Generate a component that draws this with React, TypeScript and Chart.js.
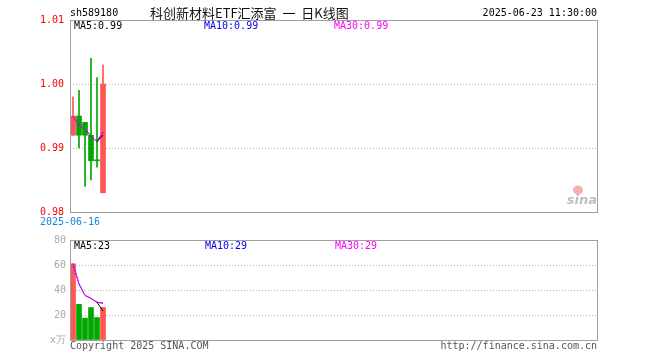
import React, { useEffect, useRef } from 'react';
import { Chart, registerables } from 'chart.js';
Chart.register(...registerables);

// ---- data ----
const dates = ['2025-06-16', '2025-06-17', '2025-06-18', '2025-06-19', '2025-06-20', '2025-06-23'];
const opens = [0.992, 0.995, 0.994, 0.992, 0.988, 0.983];
const closes = [0.995, 0.992, 0.992, 0.988, 0.988, 1.0];
const highs = [0.998, 0.999, 0.994, 1.004, 1.001, 1.003];
const lows = [0.992, 0.99, 0.984, 0.985, 0.987, 0.983];
const ma5Price = [null, null, null, null, 0.991, 0.992];
const ma10Price = [0.995, 0.9935, 0.993, 0.9918, 0.991, 0.9925];
const ma30Price = [0.995, 0.9935, 0.993, 0.9918, 0.991, 0.9925];
const volumes = [61, 28.5, 17.5, 26, 18, 26];
const ma5Vol = [null, null, null, null, 30.2, 23.2];
const ma10Vol = [61, 44.8, 35.7, 33.3, 30.2, 29.5];
const ma30Vol = [61, 44.8, 35.7, 33.3, 30.2, 29.5];
const priceTicks = { min: 0.98, max: 1.01, step: 0.01 };
const volTicks = { min: 0, max: 80, step: 20 };
const slotCount = 88;
const stockCode = 'sh589180';
const titleText = '科创新材料ETF汇添富  一  日K线图';
const timeText = '2025-06-23 11:30:00';
const priceMaLabels = ['MA5:0.99', 'MA10:0.99', 'MA30:0.99'];
const volMaLabels = ['MA5:23', 'MA10:29', 'MA30:29'];
const copyrightText = 'Copyright 2025 SINA.COM';
const urlText = 'http://finance.sina.com.cn';

const RED = '#ff5555';
const GREEN = '#00a800';
const MONO = '"DejaVu Sans Mono", monospace';
const MA_COLORS = ['#000000', '#0000ee', '#ff00ff'];

const boxPlugin = {
  id: 'boxPlugin',
  afterDraw(chart: any) {
    const { ctx, chartArea: a } = chart;
    ctx.save();
    ctx.strokeStyle = '#a0a0a0';
    ctx.lineWidth = 1;
    ctx.strokeRect(Math.round(a.left) + 0.5, Math.round(a.top) + 0.5, Math.round(a.right - a.left) - 1, Math.round(a.bottom - a.top));
    ctx.restore();
  },
};

function maLabelPlugin(labels: string[], offsets: number[]) {
  return {
    id: 'maLabels',
    afterDraw(chart: any) {
      const { ctx, chartArea: a } = chart;
      ctx.save();
      ctx.font = '10px ' + MONO;
      ctx.textBaseline = 'middle';
      ctx.textAlign = 'left';
      labels.forEach((t, i) => {
        ctx.fillStyle = MA_COLORS[i];
        ctx.fillText(t, a.left + offsets[i], a.top + 6.5);
      });
      ctx.restore();
    },
  };
}

const headerPlugin = {
  id: 'header',
  afterDraw(chart: any) {
    const { ctx, chartArea: a } = chart;
    ctx.save();
    ctx.textBaseline = 'middle';
    ctx.fillStyle = '#000';
    ctx.font = '10px ' + MONO;
    ctx.textAlign = 'left';
    ctx.fillText(stockCode, a.left, 13);
    ctx.textAlign = 'right';
    ctx.fillText(timeText, a.right - 1, 13);
    ctx.textAlign = 'left';
    ctx.font = '13px "Noto Sans CJK SC"';
    ctx.fillStyle = '#111';
    ctx.fillText(titleText, 150, 13);
    // sina watermark
    ctx.globalAlpha = 0.55;
    ctx.fillStyle = '#f07070';
    ctx.beginPath();
    ctx.ellipse(a.right - 20, a.bottom - 22, 5, 4.5, 0, 0, Math.PI * 2);
    ctx.fill();
    ctx.fillStyle = '#888';
    ctx.font = 'italic bold 13px "DejaVu Sans"';
    ctx.textAlign = 'right';
    ctx.fillText('sina', a.right - 1, a.bottom - 11);
    ctx.restore();
  },
};

const footerPlugin = {
  id: 'footer',
  afterDraw(chart: any) {
    const { ctx, chartArea: a } = chart;
    ctx.save();
    ctx.font = '10px ' + MONO;
    ctx.fillStyle = '#555';
    ctx.textBaseline = 'middle';
    ctx.textAlign = 'left';
    ctx.fillText(copyrightText, a.left, a.bottom + 6.5);
    ctx.textAlign = 'right';
    ctx.fillText(urlText, a.right - 1, a.bottom + 6.5);
    ctx.restore();
  },
};

export default function App() {
  const priceRef = useRef<HTMLCanvasElement>(null);
  const volRef = useRef<HTMLCanvasElement>(null);

  useEffect(() => {
    Chart.defaults.font.family = MONO;
    Chart.defaults.font.size = 10;
    const labels = Array.from({ length: slotCount }, (_, i) => dates[i] ?? '');
    const colors = opens.map((o, i) => (closes[i] > o ? RED : GREEN));
    const gridColor = (c: any, min: number, max: number) =>
      c.tick && c.tick.value > min + 1e-9 && c.tick.value < max - 1e-9 ? '#b0b0b0' : 'rgba(0,0,0,0)';

    const lineDs = (data: any[], color: string, order: number) => ({
      type: 'line' as const,
      data,
      borderColor: color,
      borderWidth: 1,
      pointRadius: 0,
      tension: 0,
      spanGaps: false,
      order,
    });

    const price = new Chart(priceRef.current!, {
      type: 'bar',
      data: {
        labels,
        datasets: [
          {
            data: lows.map((l, i) => [l, highs[i]]),
            backgroundColor: colors,
            barThickness: 1,
            grouped: false,
            borderWidth: 0,
            order: 5,
          } as any,
          {
            data: opens.map((o, i) => [o, closes[i]]),
            backgroundColor: colors,
            barThickness: 5,
            minBarLength: 1,
            grouped: false,
            borderWidth: 0,
            order: 4,
          } as any,
          lineDs(ma10Price, MA_COLORS[1], 3),
          lineDs(ma30Price, MA_COLORS[2], 2),
          lineDs(ma5Price, MA_COLORS[0], 1),
        ],
      },
      options: {
        animation: false,
        responsive: false,
        events: [],
        layout: { padding: { left: 0, right: 62, top: 20, bottom: 0 } },
        plugins: { legend: { display: false }, tooltip: { enabled: false } },
        scales: {
          x: {
            grid: { display: false, drawTicks: false },
            border: { display: false },
            ticks: {
              autoSkip: false,
              maxRotation: 0,
              padding: 4,
              labelOffset: -3,
              color: '#1188dd',
              callback: (_v: any, i: number) => (i === 0 ? dates[0] : ''),
            },
            afterFit: (s: any) => { s.height = 18; },
          },
          y: {
            min: priceTicks.min,
            max: priceTicks.max,
            grid: { color: (c: any) => gridColor(c, priceTicks.min, priceTicks.max), drawTicks: false },
            border: { display: false, dash: [1, 2] },
            ticks: { stepSize: priceTicks.step, color: '#ff0000', padding: 6, callback: (v: any) => Number(v).toFixed(2) },
            afterFit: (s: any) => { s.width = 70; },
          },
        },
      },
      plugins: [boxPlugin, headerPlugin, maLabelPlugin(priceMaLabels, [4, 134, 264])],
    } as any);

    const vol = new Chart(volRef.current!, {
      type: 'bar',
      data: {
        labels,
        datasets: [
          {
            data: volumes,
            backgroundColor: colors,
            barThickness: 5,
            borderWidth: 0,
            grouped: false,
            order: 4,
          } as any,
          lineDs(ma10Vol, MA_COLORS[1], 3),
          lineDs(ma30Vol, MA_COLORS[2], 2),
          lineDs(ma5Vol, MA_COLORS[0], 1),
        ],
      },
      options: {
        animation: false,
        responsive: false,
        events: [],
        layout: { padding: { left: 0, right: 62, top: 10, bottom: 20 } },
        plugins: { legend: { display: false }, tooltip: { enabled: false } },
        scales: {
          x: { display: false },
          y: {
            min: volTicks.min,
            max: volTicks.max,
            grid: { color: (c: any) => gridColor(c, volTicks.min, volTicks.max), drawTicks: false },
            border: { display: false, dash: [1, 2] },
            ticks: {
              stepSize: volTicks.step,
              color: '#aaaaaa',
              padding: 4,
              callback: (v: any) => (Number(v) === 0 ? 'x万' : String(v)),
            },
            afterFit: (s: any) => { s.width = 70; },
          },
        },
      },
      plugins: [boxPlugin, footerPlugin, maLabelPlugin(volMaLabels, [4, 135, 265])],
    } as any);

    return () => {
      price.destroy();
      vol.destroy();
    };
  }, []);

  return (
    <div style={{ position: 'absolute', left: 0, top: 0, width: 660, height: 360, background: '#fff' }}>
      <canvas ref={priceRef} width={660} height={230} style={{ position: 'absolute', left: 0, top: 0, width: 660, height: 230 }} />
      <canvas ref={volRef} width={660} height={130} style={{ position: 'absolute', left: 0, top: 230, width: 660, height: 130 }} />
    </div>
  );
}
